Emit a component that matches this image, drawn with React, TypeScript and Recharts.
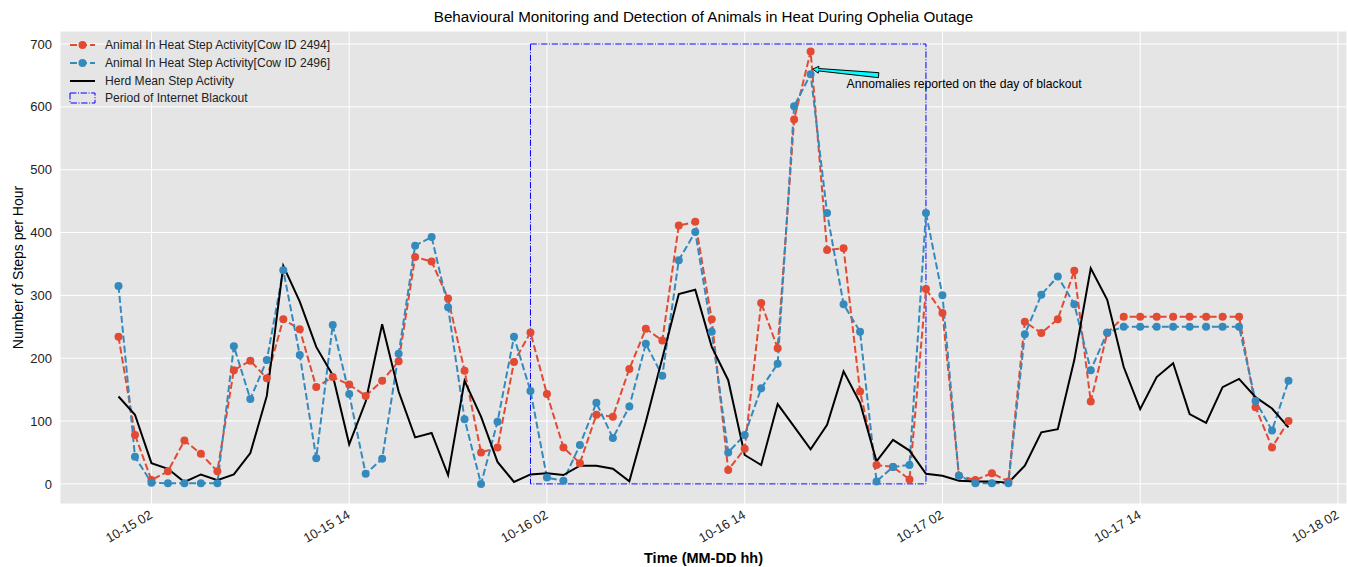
import {
  LineChart, Line, XAxis, YAxis, CartesianGrid, ReferenceArea, ReferenceDot,
  Legend, Label,
} from 'recharts'

// hours since 10-15 00:00
const hours = [
  0, 1, 2, 3, 4, 5, 6, 7, 8, 9, 10, 11, 12, 13, 14, 15, 16, 17, 18, 19, 20, 21, 22, 23,
  24, 25, 26, 27, 28, 29, 30, 31, 32, 33, 34, 35, 36, 37, 38, 39, 40, 41, 42, 43, 44, 45, 46, 47,
  48, 49, 50, 51, 52, 53, 54, 55, 56, 57, 58, 59, 60, 61, 62, 63, 64, 65, 66, 67, 68, 69, 70, 71,
]

const cow2494 = [
  234, 78, 6, 20, 69, 48, 20, 181, 196, 168, 262, 246, 154, 170, 158, 140, 164, 195, 361, 354, 295, 180, 50, 58,
  194, 241, 143, 58, 33, 110, 107, 183, 247, 228, 411, 417, 262, 22, 56, 288, 216, 580, 688, 372, 375, 147, 30, 27,
  7, 310, 272, 13, 6, 17, 4, 258, 240, 262, 339, 131, 240, 266, 266, 266, 266, 266, 266, 266, 266, 122, 58, 100,
]

const cow2496 = [
  315, 43, 2, 1, 1, 1, 1, 219, 135, 197, 340, 205, 41, 253, 143, 16, 40, 207, 379, 393, 281, 103, 0, 99,
  234, 148, 10, 5, 62, 129, 73, 123, 223, 172, 356, 401, 242, 50, 78, 152, 191, 601, 652, 431, 286, 242, 4, 27,
  30, 431, 300, 13, 1, 1, 1, 238, 301, 330, 286, 181, 241, 250, 250, 250, 250, 250, 250, 250, 250, 132, 85, 164,
]

const herdMean = [
  139, 110, 33, 24, 3, 15, 6, 15, 49, 140, 347, 290, 218, 173, 63, 131, 254, 147, 74, 81, 14, 164, 107, 35,
  3, 15, 17, 14, 29, 29, 24, 4, 99, 200, 302, 309, 218, 165, 46, 30, 127, 91, 55, 94, 179, 129, 36, 70,
  53, 16, 13, 5, 4, 4, 2, 29, 82, 87, 197, 343, 293, 186, 119, 170, 192, 111, 97, 154, 167, 138, 120, 90,
]

const xTicks = [2, 14, 26, 38, 50, 62, 74]
const xTickLabels = ['10-15 02', '10-15 14', '10-16 02', '10-16 14', '10-17 02', '10-17 14', '10-18 02']
const yTicks = [0, 100, 200, 300, 400, 500, 600, 700]

const blackout = { start: 25, end: 49, low: 0, high: 700 }
const anomaly = { hour: 42, value: 652, text: 'Annomalies reported on the day of blackout' }

const seriesNames = [
  'Animal In Heat Step Activity[Cow ID 2494]',
  'Animal In Heat Step Activity[Cow ID 2496]',
  'Herd Mean Step Activity',
  'Period of Internet Blackout',
]

const data = hours.map((h, i) => ({
  hour: h,
  cow2494: cow2494[i],
  cow2496: cow2496[i],
  herd: herdMean[i],
}))

const RED = '#E24A33'
const BLUE = '#348ABD'
const FONT = '"Liberation Sans", Arial, sans-serif'

function XTick({ x, y, payload }: any) {
  const idx = xTicks.indexOf(payload.value)
  return (
    <g transform={`translate(${x - 3},${y - 3})`}>
      <text textAnchor="end" transform="rotate(-30)" dy="0.75em" fontSize={13} fill="#222" fontFamily={FONT}>
        {xTickLabels[idx]}
      </text>
    </g>
  )
}

function ArrowNote({ cx, cy }: any) {
  const tip = { x: cx + 2, y: cy - 5 }
  const tail = { x: cx + 68, y: cy + 1 }
  const dx = tip.x - tail.x
  const dy = tip.y - tail.y
  const len = Math.hypot(dx, dy)
  const ux = dx / len, uy = dy / len
  const nx = -uy, ny = ux
  const hx = tip.x - ux * 6, hy = tip.y - uy * 6
  const pts = [
    [tail.x + nx * 2.5, tail.y + ny * 2.5],
    [hx + nx * 1.2, hy + ny * 1.2],
    [hx + nx * 3.5, hy + ny * 3.5],
    [tip.x, tip.y],
    [hx - nx * 3.5, hy - ny * 3.5],
    [hx - nx * 1.2, hy - ny * 1.2],
    [tail.x - nx * 2.5, tail.y - ny * 2.5],
  ].map((p) => p.join(',')).join(' ')
  return (
    <g>
      <polygon points={pts} fill="#00FFFF" stroke="#000" strokeWidth={1} />
      <text x={cx + 36} y={cy + 14} fontSize={12.2} fill="#000" fontFamily={FONT}>{anomaly.text}</text>
    </g>
  )
}

function LegendBox() {
  const rows = [45, 63, 81, 98]
  return (
    <svg width={300} height={80} style={{ display: 'block', overflow: 'visible' }}>
      {[RED, BLUE].map((c, i) => (
        <g key={c}>
          <line x1={10} x2={35} y1={rows[i] - 35} y2={rows[i] - 35} stroke={c} strokeWidth={2} strokeDasharray="7 3" />
          <circle cx={22.5} cy={rows[i] - 35} r={4} fill={c} />
        </g>
      ))}
      <line x1={10} x2={35} y1={rows[2] - 35} y2={rows[2] - 35} stroke="#000" strokeWidth={2} />
      <rect x={10} y={rows[3] - 35 - 5} width={25} height={10} fill="none" stroke="#0000FF" strokeWidth={1} strokeDasharray="6.4 1.6 1 1.6" />
      {seriesNames.map((n, i) => (
        <text key={n} x={45} y={rows[i] - 35} dy="0.35em" fontSize={12.1} fill="#222" fontFamily={FONT}>{n}</text>
      ))}
    </svg>
  )
}

export default function App() {
  return (
    <div style={{ position: 'absolute', left: 0, top: 0, width: 1348, height: 567, background: '#fff', fontFamily: FONT }}>
      <div style={{ position: 'absolute', left: 60, top: 8, width: 1287, textAlign: 'center', fontSize: 15.2, color: '#000' }}>
        Behavioural Monitoring and Detection of Animals in Heat During Ophelia Outage
      </div>
      <LineChart width={1348} height={567} data={data} margin={{ top: 31, right: 1, bottom: 0, left: 0 }}>
        <CartesianGrid fill="#E5E5E5" stroke="#fff" strokeWidth={1} />
        <XAxis
          dataKey="hour"
          type="number"
          domain={[-3.55, 74.55]}
          ticks={xTicks}
          allowDataOverflow
          height={63}
          axisLine={false}
          tickLine={false}
          tick={<XTick />}
          interval={0}
        >
          <Label value="Time (MM-DD hh)" position="insideBottom" offset={4} fontSize={14.5} fontWeight="bold" fill="#000" fontFamily={FONT} />
        </XAxis>
        <YAxis
          type="number"
          domain={[-32, 720.7]}
          ticks={yTicks}
          allowDataOverflow
          width={60}
          axisLine={false}
          tickLine={false}
          tick={{ fontSize: 13, fill: '#222', fontFamily: FONT }}
          label={{
            content: ({ viewBox }: any) => {
              const x = 18
              const y = viewBox.y + viewBox.height / 2
              return (
                <text x={x} y={y} transform={`rotate(-90,${x},${y})`} textAnchor="middle" dy="0.35em" fontSize={14} fill="#000" fontFamily={FONT}>
                  Number of Steps per Hour
                </text>
              )
            },
          }}
        />
        <Legend
          layout="vertical"
          align="center"
          verticalAlign="middle"
          content={() => <LegendBox />}
          wrapperStyle={{ left: 60, top: 35, width: 300 }}
        />
        <Line
          dataKey="cow2494"
          name={seriesNames[0]}
          stroke={RED}
          strokeWidth={2}
          strokeDasharray="7 3"
          dot={{ r: 4, fill: RED, stroke: RED, strokeWidth: 0, strokeDasharray: 'none' }}
          isAnimationActive={false}
        />
        <Line
          dataKey="cow2496"
          name={seriesNames[1]}
          stroke={BLUE}
          strokeWidth={2}
          strokeDasharray="7 3"
          dot={{ r: 4, fill: BLUE, stroke: BLUE, strokeWidth: 0, strokeDasharray: 'none' }}
          isAnimationActive={false}
        />
        <Line
          dataKey="herd"
          name={seriesNames[2]}
          stroke="#000"
          strokeWidth={2}
          dot={false}
          isAnimationActive={false}
        />
        <ReferenceArea
          x1={blackout.start}
          x2={blackout.end}
          y1={blackout.low}
          y2={blackout.high}
          fill="none"
          fillOpacity={0}
          stroke="#0000FF"
          strokeWidth={1}
          strokeDasharray="6.4 1.6 1 1.6"
        />
        <ReferenceDot x={anomaly.hour} y={anomaly.value} r={0} shape={(p: any) => <ArrowNote {...p} />} />
      </LineChart>
    </div>
  )
}
